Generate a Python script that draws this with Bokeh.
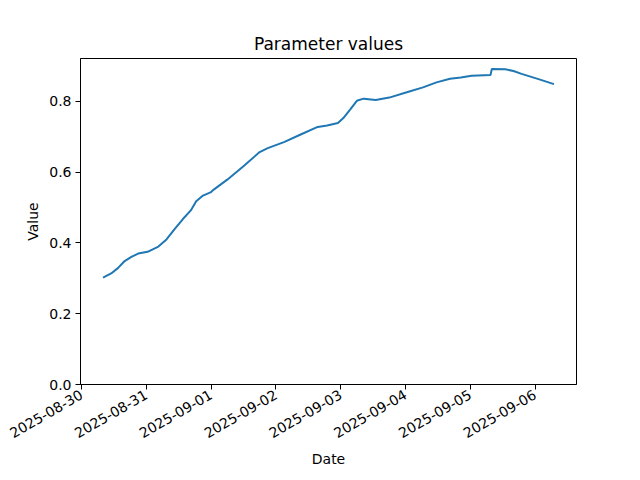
import math
import pandas as pd
from bokeh.plotting import figure
from bokeh.models import Range1d, FixedTicker, DatetimeTickFormatter, NumeralTickFormatter
from bokeh.embed import file_html
from bokeh.resources import INLINE

timestamps = [
    "2025-08-30 08:00", "2025-08-30 11:00", "2025-08-30 13:30", "2025-08-30 16:00",
    "2025-08-30 18:30", "2025-08-30 21:00", "2025-08-31 00:30", "2025-08-31 04:30",
    "2025-08-31 07:30", "2025-08-31 10:30", "2025-08-31 13:30", "2025-08-31 16:30",
    "2025-08-31 18:30", "2025-08-31 21:00", "2025-09-01 00:00", "2025-09-01 01:00",
    "2025-09-01 06:00", "2025-09-01 12:00", "2025-09-01 18:00", "2025-09-01 21:00",
    "2025-09-02 03:00", "2025-09-02 09:00", "2025-09-02 15:30", "2025-09-02 19:00",
    "2025-09-02 23:00", "2025-09-03 01:00", "2025-09-03 03:30", "2025-09-03 06:00",
    "2025-09-03 08:30", "2025-09-03 13:00", "2025-09-03 18:00", "2025-09-04 00:30",
    "2025-09-04 06:30", "2025-09-04 11:30", "2025-09-04 16:30", "2025-09-04 20:30",
    "2025-09-05 00:30", "2025-09-05 07:30", "2025-09-05 08:00", "2025-09-05 13:00",
    "2025-09-05 16:00", "2025-09-05 19:00", "2025-09-06 01:00", "2025-09-06 07:00",
]
values = [
    0.302, 0.314, 0.329, 0.349,
    0.361, 0.370, 0.375, 0.390,
    0.410, 0.439, 0.467, 0.492,
    0.518, 0.534, 0.544, 0.551,
    0.579, 0.617, 0.657, 0.668,
    0.685, 0.706, 0.728, 0.732,
    0.739, 0.753, 0.777, 0.802,
    0.808, 0.804, 0.811, 0.826,
    0.840, 0.854, 0.864, 0.868,
    0.873, 0.875, 0.892, 0.891,
    0.886, 0.878, 0.864, 0.849,
]
tick_dates = ["2025-08-30", "2025-08-31", "2025-09-01", "2025-09-02",
              "2025-09-03", "2025-09-04", "2025-09-05", "2025-09-06"]
y_ticks = [0.0, 0.2, 0.4, 0.6, 0.8]

x = pd.to_datetime(timestamps)
xms = [t.timestamp() * 1000 for t in x]
span = max(xms) - min(xms)
x_start = min(xms) - 0.05 * span
x_end = max(xms) + 0.05 * span
y_top = max(values) + 0.05 * (max(values) - min(values))

p = figure(
    output_backend="svg", toolbar_location=None,
    x_axis_type="datetime",
    frame_width=496, frame_height=326,
    min_border_left=80, min_border_right=56, min_border_top=58, min_border_bottom=88,
    x_range=Range1d(x_start, x_end), y_range=Range1d(0, y_top),
    title="Parameter values",
)
p.background_fill_color = "white"
p.border_fill_color = "white"
p.outline_line_color = "black"
p.outline_line_width = 1
p.grid.visible = False

p.title.align = "center"
p.title.text_font = "DejaVu Sans"
p.title.text_font_size = "17px"
p.title.text_font_style = "normal"
p.title.text_color = "black"

p.line(x, values, line_color="#1f77b4", line_width=2)

tick_ms = [pd.Timestamp(d).timestamp() * 1000 for d in tick_dates]
p.xaxis.ticker = FixedTicker(ticks=tick_ms)
fmt = "%Y-%m-%d"
p.xaxis.formatter = DatetimeTickFormatter(
    milliseconds=fmt, seconds=fmt, minsec=fmt, minutes=fmt, hourmin=fmt,
    hours=fmt, days=fmt, months=fmt, years=fmt)
p.xaxis.major_label_orientation = math.pi / 6
p.xaxis.axis_label = "Date"

p.yaxis.ticker = FixedTicker(ticks=y_ticks)
p.yaxis.formatter = NumeralTickFormatter(format="0.0")
p.yaxis.axis_label = "Value"

for ax in [p.xaxis[0], p.yaxis[0]]:
    ax.minor_tick_line_color = None
    ax.major_tick_in = 0
    ax.major_tick_out = 5
    ax.major_tick_line_color = "black"
    ax.axis_line_color = "black"
    ax.major_label_text_font = "DejaVu Sans"
    ax.major_label_text_font_size = "14px"
    ax.major_label_text_color = "black"
    ax.major_label_standoff = 4
    ax.axis_label_text_font = "DejaVu Sans"
    ax.axis_label_text_font_size = "14px"
    ax.axis_label_text_font_style = "normal"
    ax.axis_label_text_color = "black"
    ax.axis_label_standoff = 5

open("out.html", "w").write(file_html(p, INLINE))
